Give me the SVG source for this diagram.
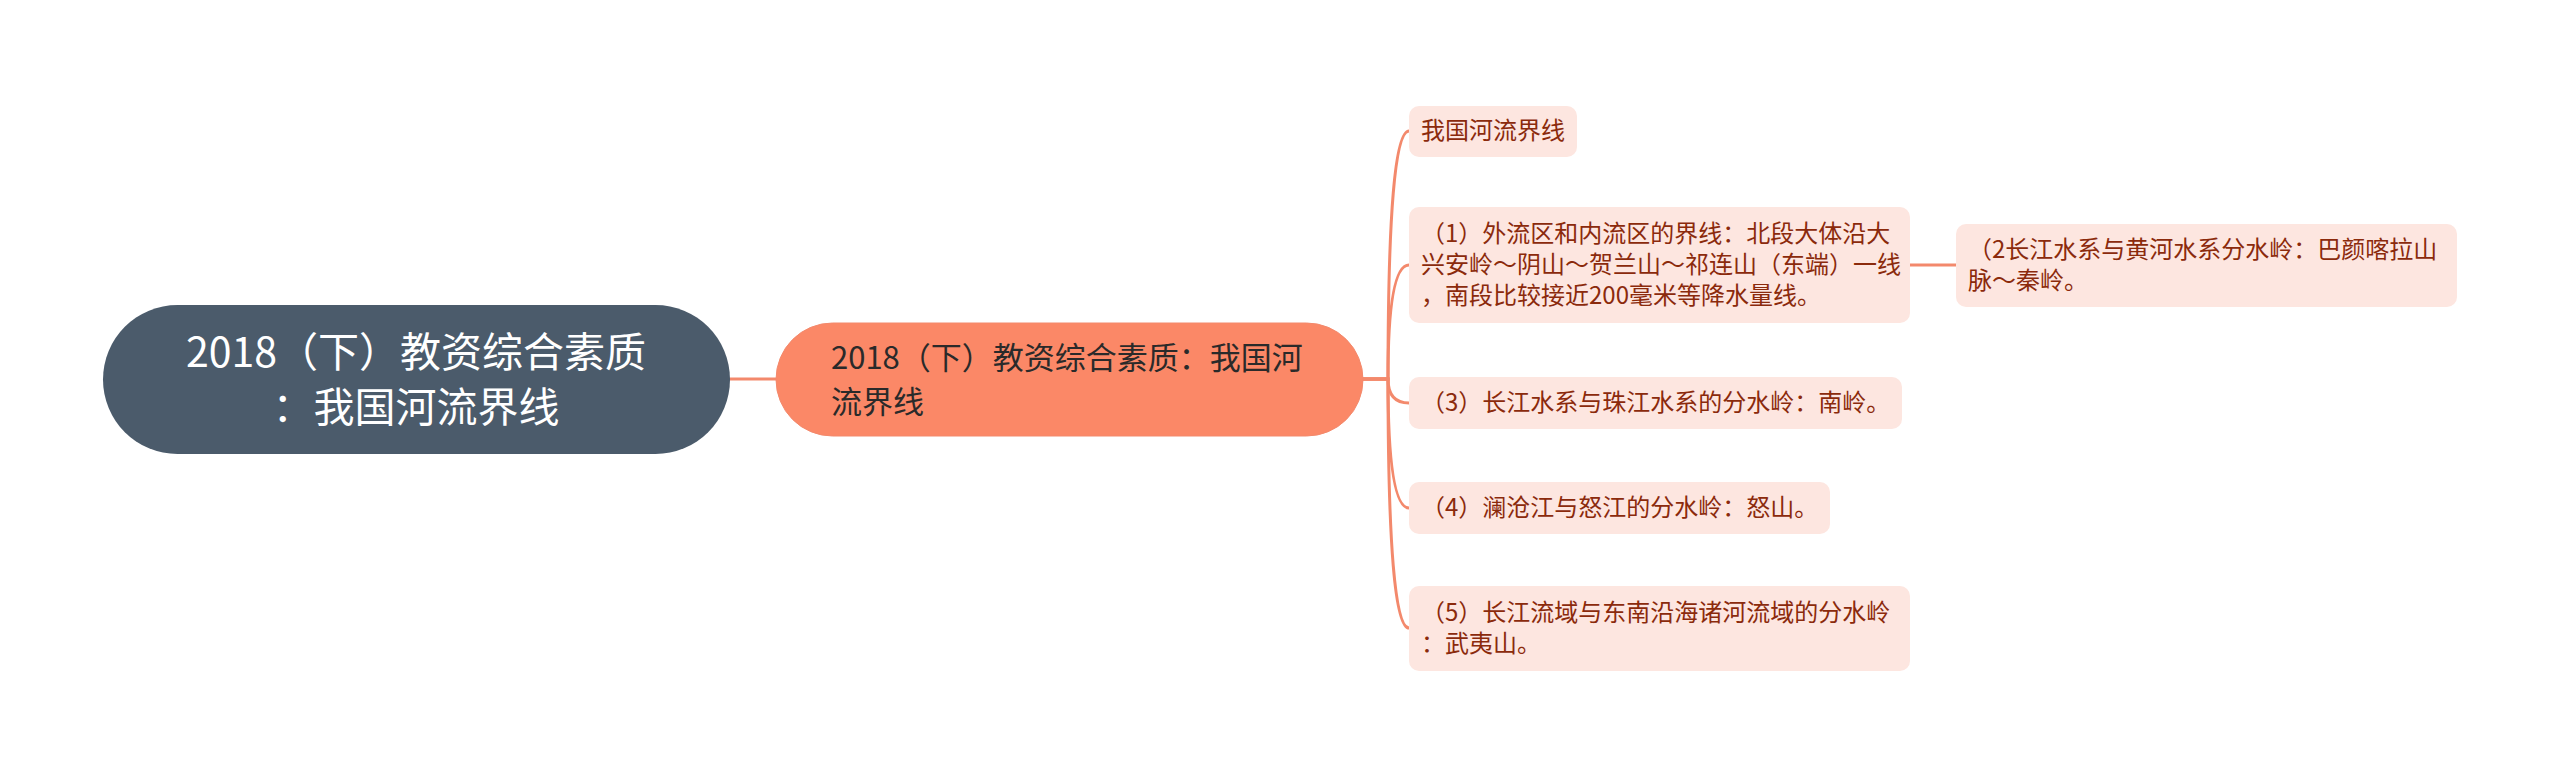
<svg xmlns="http://www.w3.org/2000/svg" width="2560" height="775" viewBox="0 0 2560 775">
<style>
.bg{fill:#ffffff}
.link{fill:none;stroke:#F3896C;stroke-width:3;stroke-linecap:round}
.root rect{fill:#4B5B6B}
.root text{fill:#ffffff;font-size:41px;text-anchor:middle}
.main rect{fill:#FB8867;stroke:#F3896C;stroke-width:1}
.main text{fill:#2A2A2A;font-size:31px}
.leaf rect{fill:#FDE6E0}
.leaf text{fill:#8B2A0C;font-size:24px}
text{font-family:"Noto Sans CJK SC","Noto Sans",sans-serif}
</style>
<rect class="bg" x="0" y="0" width="2560" height="775"/>
<g id="connectors">
<path class="link" d="M730,379 H776"/>
<path class="link" d="M1363,379 H1388 Q1388,131 1409,131"/>
<path class="link" d="M1363,379 H1388 Q1388,265 1409,265"/>
<path class="link" d="M1363,379 H1388 Q1388,403 1409,403"/>
<path class="link" d="M1363,379 H1388 Q1388,508 1409,508"/>
<path class="link" d="M1363,379 H1388 Q1388,628 1409,628"/>
<path class="link" d="M1910,265 H1956"/>
</g>
<g id="root" class="root">
<rect x="103" y="305" width="627" height="149" rx="74.5"/>
<text x="416" y="367">2018（下）教资综合素质</text>
<text x="416" y="422">：我国河流界线</text>
</g>
<g id="main" class="main">
<rect x="776" y="323" width="587" height="113" rx="56.5"/>
<text x="831" y="369">2018（下）教资综合素质：我国河</text>
<text x="831" y="413">流界线</text>
</g>
<g id="child1" class="leaf">
<rect x="1409" y="106" width="168" height="51" rx="10"/>
<text x="1421" y="139">我国河流界线</text>
</g>
<g id="child2" class="leaf">
<rect x="1409" y="207" width="501" height="116" rx="10"/>
<text x="1421" y="242">（1）外流区和内流区的界线：北段大体沿大</text>
<text x="1421" y="273">兴安岭～阴山～贺兰山～祁连山（东端）一线</text>
<text x="1421" y="304">，南段比较接近200毫米等降水量线。</text>
</g>
<g id="grandchild" class="leaf">
<rect x="1956" y="224" width="501" height="83" rx="10"/>
<text x="1968" y="258">（2长江水系与黄河水系分水岭：巴颜喀拉山</text>
<text x="1968" y="289">脉～秦岭。</text>
</g>
<g id="child3" class="leaf">
<rect x="1409" y="377" width="493" height="52" rx="10"/>
<text x="1421" y="411">（3）长江水系与珠江水系的分水岭：南岭。</text>
</g>
<g id="child4" class="leaf">
<rect x="1409" y="482" width="421" height="52" rx="10"/>
<text x="1421" y="516">（4）澜沧江与怒江的分水岭：怒山。</text>
</g>
<g id="child5" class="leaf">
<rect x="1409" y="586" width="501" height="85" rx="10"/>
<text x="1421" y="621">（5）长江流域与东南沿海诸河流域的分水岭</text>
<text x="1421" y="652">：武夷山。</text>
</g>
</svg>
